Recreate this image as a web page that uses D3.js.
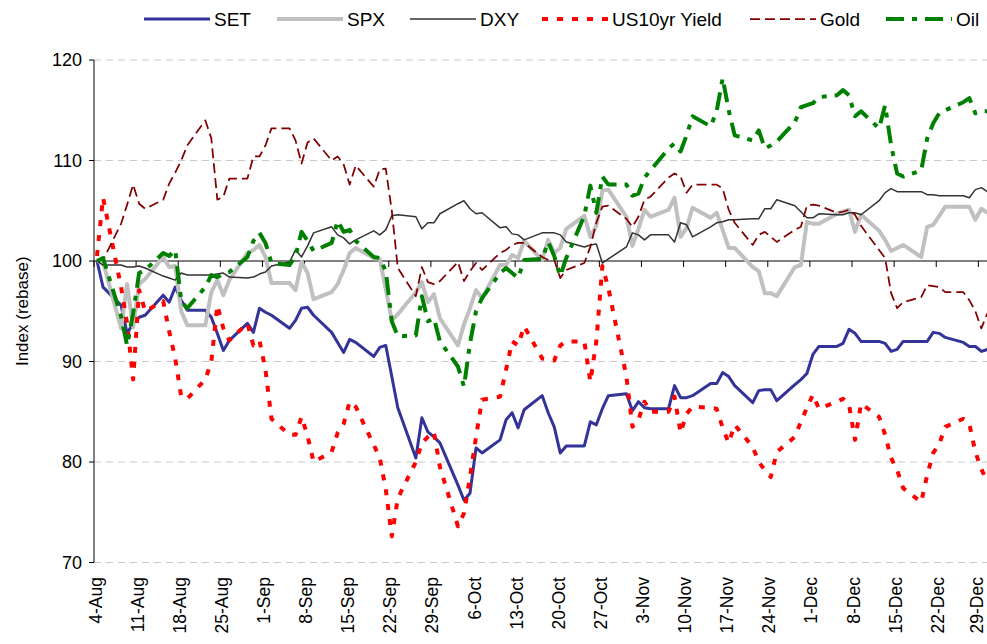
<!DOCTYPE html>
<html>
<head>
<meta charset="utf-8">
<script src="https://cdn.jsdelivr.net/npm/d3@7"></script>
<style>
  body { margin: 0; background: #fff; }
  text { font-family: Arial, "Liberation Sans", sans-serif; fill: #000; }
</style>
</head>
<body>
<svg id="chart" width="987" height="644"></svg>
<script>
// trading days, 4-Aug to 30-Dec (weekdays)
const startDay = d3.utcParse("%Y-%m-%d")("2011-08-04");
const endDay = d3.utcParse("%Y-%m-%d")("2011-12-31");
const dates = d3.utcDays(startDay, endDay).filter(d => d.getUTCDay() !== 0 && d.getUTCDay() !== 6);

const yTicks = [70, 80, 90, 100, 110, 120];

// index values (rebased, 4-Aug = 100), one per trading day
const setIdx = [
  100, 97.4, 95.6, 92.8, 93.8, 94.4, 94.6, 96.6, 95.9, 97.4, 96.1, 95.1, 95.1, 94.4, 92.8, 91.1, 92.1, 93.8, 92.9, 95.3,
  94.9, 94.6, 93.3, 94.1, 95.3, 95.4, 94.6, 92.9, 91.9, 90.9, 92.2, 91.9, 90.5, 91.4, 91.6, 88.5, 85.4, 80.4, 84.4, 83.0, 82.5, 81.9,
  77.7, 76.2, 76.9, 81.4, 80.9, 82.2, 84.2, 84.9, 83.4, 85.2, 86.6, 84.9, 83.5, 80.9, 81.6, 81.6, 84.0, 83.7, 85.3, 86.6, 86.8,
  85.1, 86.0, 85.4, 85.3, 85.3, 87.6, 86.4, 86.4, 86.6, 87.8, 87.8, 88.9, 88.5, 87.6, 85.9, 87.1, 87.2, 87.2, 86.1, 87.7, 88.2, 88.8,
  90.7, 91.5, 91.5, 91.8, 93.2, 92.8, 92.0, 92.0, 91.8, 91.0, 91.2, 92.0, 92.0, 92.0, 92.9, 92.8, 92.4, 91.9, 91.5, 91.5, 91.0, 91.2
];
const spx = [
  100, 99.9, 93.3, 97.7, 93.4, 97.7, 98.2, 100.4, 99.4, 99.5, 95.0, 93.6, 93.6, 96.9, 98.1, 96.6, 98.1, 100.8, 101.1, 101.6,
  100.4, 97.8, 97.8, 97.1, 99.9, 98.8, 96.2, 96.9, 97.7, 99.1, 100.8, 101.3, 100.3, 100.2, 97.2, 94.1, 94.7, 96.9, 97.9, 95.9, 96.7, 94.3,
  91.6, 93.7, 95.3, 97.1, 96.3, 99.6, 99.6, 100.6, 100.3, 102.0, 100.1, 102.1, 100.8, 101.3, 103.2, 104.5, 102.4, 103.5, 107.0, 107.1, 104.4,
  101.5, 103.2, 105.1, 104.4, 105.1, 106.3, 102.4, 103.3, 105.3, 104.3, 104.8, 103.1, 101.3, 101.3, 99.4, 99.0, 96.8, 96.8, 96.5, 99.4, 99.6, 103.9,
  103.7, 103.7, 104.7, 104.9, 105.1, 102.9, 104.6, 103.0, 102.1, 101.0, 101.3, 101.6, 100.4, 103.4, 103.6, 104.5, 105.4, 105.4, 105.4, 104.1, 105.2, 104.8
];
const dxy = [
  100, 99.6, 99.6, 99.4, 99.4, 99.5, 99.3, 98.5, 98.3, 98.1, 98.8, 98.6, 98.6, 98.6, 98.7, 98.8, 98.4, 98.3, 98.4, 98.7,
  98.9, 99.5, 99.9, 101.1, 100.4, 101.5, 102.8, 103.4, 102.6, 102.3, 101.7, 102.1, 103.0, 102.6, 103.1, 104.5, 104.6, 104.4, 103.2, 103.8, 103.8, 104.7,
  105.7, 106.0, 105.2, 104.7, 104.8, 103.3, 103.4, 102.7, 102.6, 102.1, 102.8, 102.8, 102.8, 102.6, 101.9, 101.4, 101.6, 101.7, 99.8, 100.2, 101.4,
  102.8, 102.6, 102.1, 102.6, 102.6, 101.9, 103.8, 103.6, 102.4, 103.4, 103.8, 103.9, 104.1, 104.1, 104.2, 104.2, 105.2, 105.2, 106.1, 105.5, 104.9, 104.3,
  104.3, 104.7, 104.6, 104.6, 104.8, 104.8, 104.6, 106.0, 106.8, 107.2, 106.9, 106.9, 106.9, 106.6, 106.6, 106.5, 106.5, 106.5, 106.3, 107.1, 107.3, 106.9
];
const us10y = [
  100.5, 106.3, 97.4, 93.8, 88.2, 97.1, 95.0, 96.0, 93.0, 90.3, 86.5, 86.3, 88.2, 90.0, 95.6, 93.3, 92.1, 93.8, 91.6, 92.1,
  89.2, 84.3, 82.7, 82.7, 84.5, 82.6, 80.0, 81.0, 82.9, 83.8, 86.0, 85.5, 81.7, 80.4, 77.3, 72.6, 76.4, 80.0, 81.9, 82.5, 83.0, 79.5,
  73.6, 74.9, 78.5, 82.5, 86.2, 86.5, 89.2, 92.0, 91.6, 93.5, 90.3, 90.2, 90.1, 91.6, 92.0, 92.0, 88.0, 92.0, 99.5, 97.3, 88.5,
  83.5, 84.2, 86.0, 85.0, 85.0, 86.5, 82.9, 84.8, 85.5, 85.4, 85.3, 83.4, 81.9, 83.7, 81.5, 80.0, 79.2, 78.5, 81.0, 82.5, 84.0, 85.4,
  86.7, 85.3, 86.0, 86.3, 85.7, 82.2, 85.8, 84.5, 82.7, 80.4, 79.2, 77.4, 76.0, 78.7, 80.9, 81.8, 83.5, 84.3, 83.8, 81.0, 79.3, 78.0
];
const gold = [
  100, 100.1, 103.7, 105.6, 107.6, 105.7, 105.2, 106.1, 107.7, 108.8, 110.0, 111.5, 114.0, 112.2, 106.1, 106.4, 108.2, 108.2, 110.4, 110.4,
  111.5, 113.2, 113.2, 112.0, 109.7, 111.8, 112.2, 110.0, 110.4, 109.6, 107.6, 109.5, 107.4, 109.1, 109.2, 105.0, 99.3, 96.5, 99.4, 97.9, 97.7, 98.0,
  99.9, 98.0, 99.0, 99.8, 99.1, 100.8, 101.1, 101.6, 101.8, 101.8, 100.4, 100.1, 100.1, 98.3, 99.1, 99.8, 101.4, 103.8, 105.4, 105.5, 104.2,
  103.4, 104.4, 106.1, 106.4, 108.3, 108.7, 108.4, 106.8, 107.6, 107.6, 107.6, 107.2, 105.1, 103.8, 101.6, 102.6, 102.9, 102.4, 101.9, 103.1, 103.4, 105.5,
  105.6, 105.5, 104.8, 104.9, 105.1, 104.6, 103.5, 101.1, 100.3, 96.8, 95.3, 95.9, 96.4, 97.6, 97.5, 97.4, 96.9, 96.9, 96.1, 95.0, 93.3, 94.8
];
const oil = [
  100, 100.3, 94.5, 91.6, 94.8, 98.8, 99.1, 100.8, 100.5, 101.1, 96.0, 95.3, 97.4, 98.6, 98.4, 98.7, 98.9, 100.4, 102.0, 102.8,
  101.8, 99.8, 99.6, 100.5, 102.9, 102.0, 101.0, 101.8, 104.0, 102.9, 103.1, 102.0, 100.4, 100.3, 99.0, 94.0, 92.5, 92.6, 96.5, 94.0, 94.3, 92.0,
  89.5, 87.5, 91.8, 95.0, 96.3, 98.8, 99.3, 98.8, 98.3, 100.1, 100.2, 101.9, 100.5, 98.5, 100.3, 104.5, 107.5, 104.8, 108.4, 107.6, 107.6,
  106.5, 106.7, 108.3, 109.0, 111.2, 111.7, 110.9, 112.5, 114.4, 113.4, 114.9, 118.2, 115.0, 112.5, 112.0, 113.0, 111.2, 111.5, 111.9, 113.8, 115.3, 115.5,
  115.7, 116.3, 116.5, 117.0, 116.5, 114.4, 114.9, 113.2, 115.5, 111.5, 108.7, 108.4, 109.0, 112.2, 113.7, 114.7, 115.0, 115.8, 116.2, 114.7, 114.9, 114.9
];

const series = [
  { name: "SET", values: setIdx, color: "#333399", width: 3, dash: null },
  { name: "SPX", values: spx, color: "#c0c0c0", width: 4, dash: null },
  { name: "DXY", values: dxy, color: "#333333", width: 1.5, dash: null },
  { name: "US10yr Yield", values: us10y, color: "#ff0000", width: 4, dash: "6,9" },
  { name: "Gold", values: gold, color: "#800000", width: 1.75, dash: "10,5" },
  { name: "Oil", values: oil, color: "#008000", width: 4, dash: "18,8,5,8" }
];

const svg = d3.select("#chart");
const plotLeft = 94, plotTop = 60, plotBottom = 562.5;
const dayPx = 6.016;

const x = d3.scaleUtc().domain([startDay, endDay]).range([plotLeft, plotLeft + 149 * dayPx]);
const y = d3.scaleLinear().domain([70, 120]).range([plotBottom, plotTop]);
// points sit in the middle of their day
const xc = d => x(d3.utcHour.offset(d, 12));

// gridlines
svg.append("g").selectAll("line")
  .data(yTicks.filter(t => t !== 100))
  .join("line")
  .attr("x1", plotLeft).attr("x2", 987)
  .attr("y1", d => y(d)).attr("y2", d => y(d))
  .attr("stroke", "#c8c8c8").attr("stroke-width", 1)
  .attr("stroke-dasharray", "7,5");

// y axis
const yAxis = svg.append("g");
yAxis.append("line")
  .attr("x1", plotLeft).attr("x2", plotLeft).attr("y1", plotTop).attr("y2", plotBottom)
  .attr("stroke", "#000");
yAxis.selectAll("line.tk").data(yTicks).join("line")
  .attr("class", "tk")
  .attr("x1", plotLeft - 5).attr("x2", plotLeft)
  .attr("y1", d => y(d)).attr("y2", d => y(d))
  .attr("stroke", "#000");
yAxis.selectAll("text").data(yTicks).join("text")
  .attr("x", 82).attr("y", d => y(d))
  .attr("dy", "0.35em").attr("text-anchor", "end")
  .style("font-size", "18px")
  .text(d => d);

svg.append("text")
  .attr("transform", `translate(22,${(plotTop + plotBottom) / 2}) rotate(-90)`)
  .attr("dy", "0.35em")
  .attr("text-anchor", "middle")
  .style("font-size", "17px")
  .text("Index (rebase)");

// x axis crossing at 100
const xTicks = d3.utcDays(startDay, endDay, 7);
const y100 = y(100);
const xAxis = svg.append("g");
xAxis.append("line")
  .attr("x1", plotLeft).attr("x2", 987).attr("y1", y100).attr("y2", y100)
  .attr("stroke", "#000");
xAxis.selectAll("line.tk").data(xTicks).join("line")
  .attr("class", "tk")
  .attr("x1", d => x(d)).attr("x2", d => x(d))
  .attr("y1", y100).attr("y2", y100 + 6)
  .attr("stroke", "#000");
const fmt = d3.utcFormat("%-d-%b");
// baseline of rotated labels, kept inside the right edge
xAxis.selectAll("text").data(xTicks).join("text")
  .attr("transform", d => `translate(${Math.min(xc(d) + 4.5, 982.5)},577) rotate(-90)`)
  .attr("text-anchor", "end")
  .style("font-size", "17.5px")
  .text(d => fmt(d));

// series lines
const line = vals => d3.line()
  .x((v, i) => xc(dates[i]))
  .y(v => y(v))(vals);

svg.append("g").selectAll("path")
  .data(series)
  .join("path")
  .attr("d", s => line(s.values))
  .attr("fill", "none")
  .attr("stroke", s => s.color)
  .attr("stroke-width", s => s.width)
  .attr("stroke-dasharray", s => s.dash)
  .attr("stroke-linejoin", "round");

// legend
const legendPos = [144, 277, 410, 542, 750, 886];
const lg = svg.append("g").selectAll("g")
  .data(series)
  .join("g")
  .attr("transform", (s, i) => `translate(${legendPos[i]},19)`);
lg.append("line")
  .attr("x1", 0).attr("x2", 66)
  .attr("stroke", s => s.color)
  .attr("stroke-width", s => s.width)
  .attr("stroke-dasharray", s => s.dash);
lg.append("text")
  .attr("x", 70).attr("dy", "0.35em")
  .style("font-size", "19px")
  .text(s => s.name);
</script>
</body>
</html>
